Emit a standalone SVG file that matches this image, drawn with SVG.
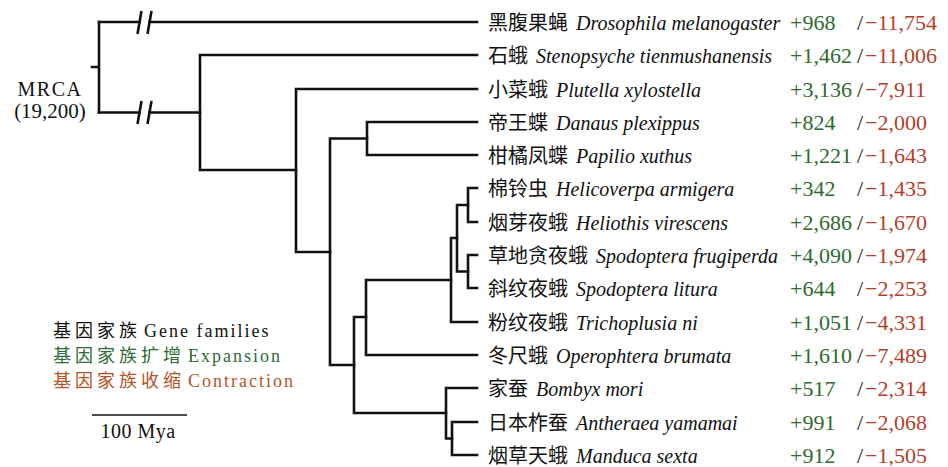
<svg xmlns="http://www.w3.org/2000/svg" width="948" height="467" viewBox="0 0 948 467">
<style>
  .br{fill:none;stroke:#111;stroke-width:2.6;stroke-linecap:square}
  .bk{fill:none;stroke:#111;stroke-width:2.6;stroke-linecap:butt}
  .sp{font-family:"Liberation Serif","Noto Sans CJK SC",serif;font-size:20px;fill:#111}
  .it{font-style:italic}
  .num{font-family:"Liberation Serif",serif;font-size:22px}
  .p{fill:#2c6a2e}
  .m{fill:#b3402a}
  .sl{fill:#222}
  .lg{font-family:"Liberation Serif","Noto Sans CJK SC",serif;font-size:18px}
  .cj{letter-spacing:4px}
  .la{letter-spacing:2px}
  .lab{font-family:"Liberation Serif",serif;fill:#111;text-anchor:middle}
</style>
<rect width="948" height="467" fill="#fff"/>
<g id="connectors">
  <path class="br" d="M92,67H99M99,22V112.5"/>
  <path class="br" d="M99,22H139.5M149.5,22H477"/>
  <path class="br" d="M99,112.5H139.5M149.5,112.5H200"/>
  <path class="bk" d="M141.5,11L137.5,34M151.5,11L147.5,34"/>
  <path class="bk" d="M141.5,101L137.5,124M151.5,101L147.5,124"/>
  <path class="br" d="M200,55V170M200,55H477M200,170H296"/>
  <path class="br" d="M296,89V252M296,89H477M296,252H330"/>
  <path class="br" d="M330,138.5V365M330,138.5H367M330,365H354"/>
  <path class="br" d="M367,122V155M367,122H477M367,155H477"/>
  <path class="br" d="M354,317V413M354,317H366M354,413H446"/>
  <path class="br" d="M366,280V355M366,280H451M366,355H477"/>
  <path class="br" d="M451,238V322M451,238H457M451,322H477"/>
  <path class="br" d="M457,205V271.5M457,205H468M457,271.5H468"/>
  <path class="br" d="M468,188V222M468,188H477M468,222H477"/>
  <path class="br" d="M468,255V288M468,255H477M468,288H477"/>
  <path class="br" d="M446,388V438.5M446,388H477M446,438.5H452"/>
  <path class="br" d="M452,422V455M452,422H477M452,455H477"/>
</g>
<g id="mrca">
  <text class="lab" x="50" y="96" font-size="20" letter-spacing="1.5">MRCA</text>
  <text class="lab" x="50" y="118" font-size="21">(19,200)</text>
</g>
<g id="leaf-dmel">
  <text class="sp" x="488" y="30">黑腹果蝇 <tspan class="it" dx="3">Drosophila melanogaster</tspan></text>
  <text class="num p" x="790" y="30">+968</text><text class="num sl" x="857" y="30">/</text><text class="num m" x="865" y="30">−11,754</text>
</g>
<g id="leaf-stie">
  <text class="sp" x="488" y="63">石蛾 <tspan class="it" dx="3">Stenopsyche tienmushanensis</tspan></text>
  <text class="num p" x="790" y="63">+1,462</text><text class="num sl" x="857" y="63">/</text><text class="num m" x="865" y="63">−11,006</text>
</g>
<g id="leaf-pxyl">
  <text class="sp" x="488" y="97">小菜蛾 <tspan class="it" dx="3">Plutella xylostella</tspan></text>
  <text class="num p" x="790" y="97">+3,136</text><text class="num sl" x="857" y="97">/</text><text class="num m" x="865" y="97">−7,911</text>
</g>
<g id="leaf-dple">
  <text class="sp" x="488" y="130">帝王蝶 <tspan class="it" dx="3">Danaus plexippus</tspan></text>
  <text class="num p" x="790" y="130">+824</text><text class="num sl" x="857" y="130">/</text><text class="num m" x="865" y="130">−2,000</text>
</g>
<g id="leaf-pxut">
  <text class="sp" x="488" y="163">柑橘凤蝶 <tspan class="it" dx="3">Papilio xuthus</tspan></text>
  <text class="num p" x="790" y="163">+1,221</text><text class="num sl" x="857" y="163">/</text><text class="num m" x="865" y="163">−1,643</text>
</g>
<g id="leaf-harm">
  <text class="sp" x="488" y="196">棉铃虫 <tspan class="it" dx="3">Helicoverpa armigera</tspan></text>
  <text class="num p" x="790" y="196">+342</text><text class="num sl" x="857" y="196">/</text><text class="num m" x="865" y="196">−1,435</text>
</g>
<g id="leaf-hvir">
  <text class="sp" x="488" y="230">烟芽夜蛾 <tspan class="it" dx="3">Heliothis virescens</tspan></text>
  <text class="num p" x="790" y="230">+2,686</text><text class="num sl" x="857" y="230">/</text><text class="num m" x="865" y="230">−1,670</text>
</g>
<g id="leaf-sfru">
  <text class="sp" x="488" y="263">草地贪夜蛾 <tspan class="it" dx="3">Spodoptera frugiperda</tspan></text>
  <text class="num p" x="790" y="263">+4,090</text><text class="num sl" x="857" y="263">/</text><text class="num m" x="865" y="263">−1,974</text>
</g>
<g id="leaf-slit">
  <text class="sp" x="488" y="296">斜纹夜蛾 <tspan class="it" dx="3">Spodoptera litura</tspan></text>
  <text class="num p" x="790" y="296">+644</text><text class="num sl" x="857" y="296">/</text><text class="num m" x="865" y="296">−2,253</text>
</g>
<g id="leaf-tni">
  <text class="sp" x="488" y="330">粉纹夜蛾 <tspan class="it" dx="3">Trichoplusia ni</tspan></text>
  <text class="num p" x="790" y="330">+1,051</text><text class="num sl" x="857" y="330">/</text><text class="num m" x="865" y="330">−4,331</text>
</g>
<g id="leaf-obru">
  <text class="sp" x="488" y="363">冬尺蛾 <tspan class="it" dx="3">Operophtera brumata</tspan></text>
  <text class="num p" x="790" y="363">+1,610</text><text class="num sl" x="857" y="363">/</text><text class="num m" x="865" y="363">−7,489</text>
</g>
<g id="leaf-bmor">
  <text class="sp" x="488" y="396">家蚕 <tspan class="it" dx="3">Bombyx mori</tspan></text>
  <text class="num p" x="790" y="396">+517</text><text class="num sl" x="857" y="396">/</text><text class="num m" x="865" y="396">−2,314</text>
</g>
<g id="leaf-ayam">
  <text class="sp" x="488" y="430">日本柞蚕 <tspan class="it" dx="3">Antheraea yamamai</tspan></text>
  <text class="num p" x="790" y="430">+991</text><text class="num sl" x="857" y="430">/</text><text class="num m" x="865" y="430">−2,068</text>
</g>
<g id="leaf-msex">
  <text class="sp" x="488" y="463">烟草天蛾 <tspan class="it" dx="3">Manduca sexta</tspan></text>
  <text class="num p" x="790" y="463">+912</text><text class="num sl" x="857" y="463">/</text><text class="num m" x="865" y="463">−1,505</text>
</g>
<g id="legend">
  <text class="lg" x="53" y="337" fill="#111"><tspan class="cj">基因家族</tspan><tspan class="la" dx="3">Gene families</tspan></text>
  <text class="lg" x="53" y="362" fill="#2d6a36"><tspan class="cj">基因家族扩增</tspan><tspan class="la" dx="3">Expansion</tspan></text>
  <text class="lg" x="53" y="387" fill="#b5531f"><tspan class="cj">基因家族收缩</tspan><tspan class="la" dx="3">Contraction</tspan></text>
</g>
<g id="scale">
  <path d="M92,415H187" stroke="#111" stroke-width="1.6"/>
  <text class="lab" x="138" y="438" font-size="20" letter-spacing="0.5">100 Mya</text>
</g>
</svg>
